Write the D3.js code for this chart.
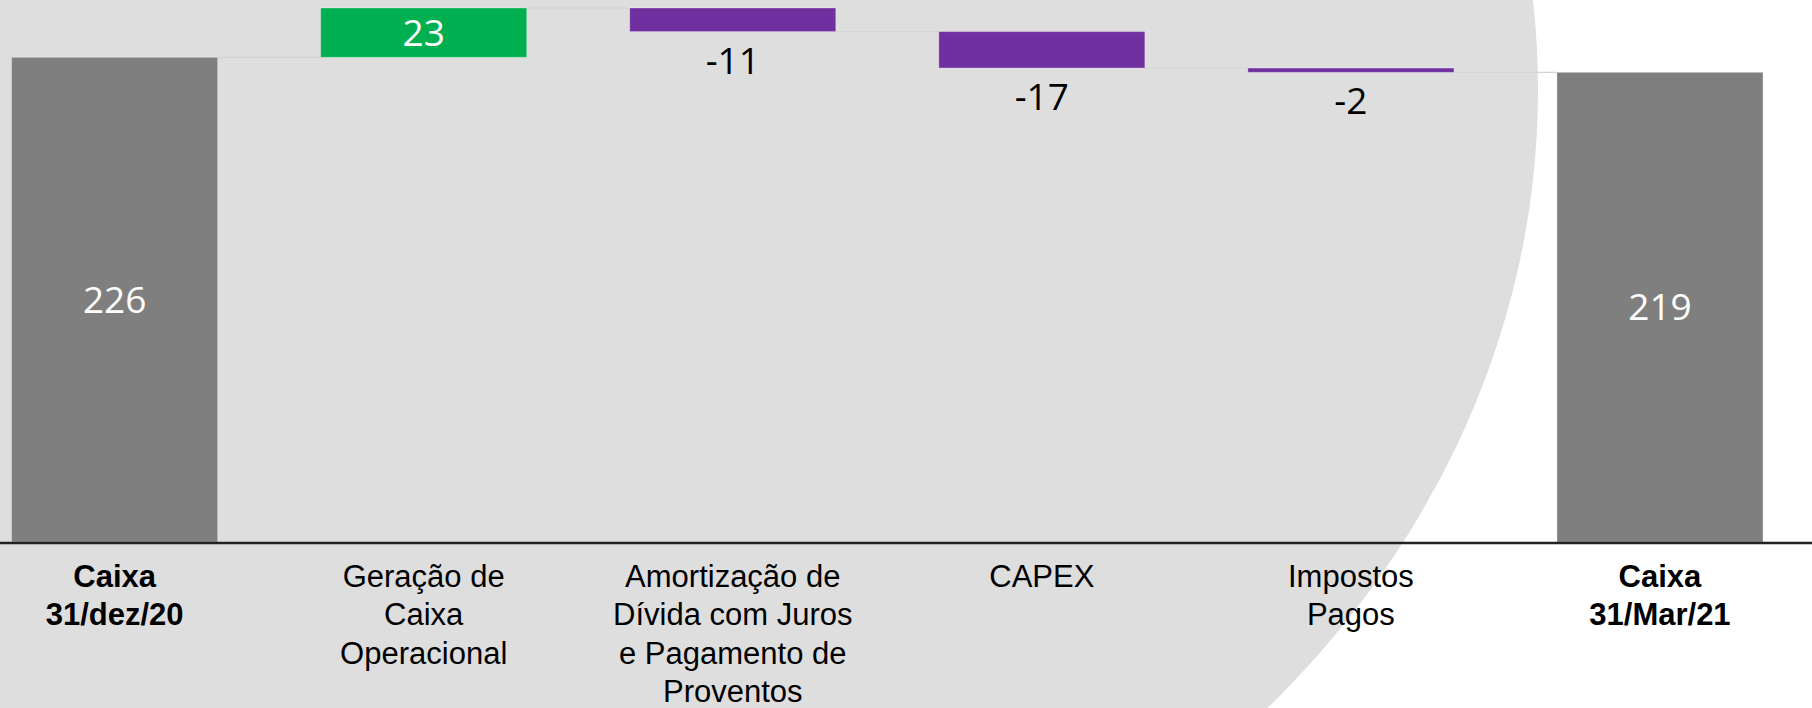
<!DOCTYPE html>
<html>
<head>
<meta charset="utf-8">
<script src="https://cdn.jsdelivr.net/npm/d3@7"></script>
<style>
  html, body { margin: 0; padding: 0; background: #ffffff; }
  svg { display: block; }
</style>
</head>
<body>
<div id="chart"></div>
<script>
// waterfall data
var categories = ["Caixa 31/dez/20", "Geração de Caixa Operacional", "Amortização de Dívida com Juros e Pagamento de Proventos", "CAPEX", "Impostos Pagos", "Caixa 31/Mar/21"];
var categoryLines = [["Caixa", "31/dez/20"], ["Geração de", "Caixa", "Operacional"], ["Amortização de", "Dívida com Juros", "e Pagamento de", "Proventos"], ["CAPEX"], ["Impostos", "Pagos"], ["Caixa", "31/Mar/21"]];
var values = [226, 23, -11, -17, -2, 219];
var kinds = ["total", "delta", "delta", "delta", "delta", "total"];
var yDomain = [0, 249];

var width = 1812, height = 708;
var axisY = 542;
var colors = { total: "#7f7f7f", up: "#00b050", down: "#7030a0" };

var svg, x, y, bars, running, i;

svg = d3.select("#chart").append("svg:svg").attr("width", width).attr("height", height);

// the big grey shape behind the chart
svg.append("ellipse").attr("cx", 468).attr("cy", 90).attr("rx", 1070).attr("ry", 930).attr("fill", "#dedede");

x = d3.scaleBand().domain(categories).range([11.6, 1763]).paddingInner(1 / 3).paddingOuter(0);
y = d3.scaleLinear().domain(yDomain).range([axisY, 8]);

// work out start / end of each bar
bars = [];
running = 0;
for (i = 0; i < values.length; i++) {
  if (kinds[i] === "total") {
    bars.push({ cat: categories[i], v: values[i], lo: 0, hi: values[i], end: values[i], kind: "total" });
    running = values[i];
  } else {
    var next = running + values[i];
    bars.push({ cat: categories[i], v: values[i], lo: Math.min(running, next), hi: Math.max(running, next), end: next, kind: values[i] >= 0 ? "up" : "down" });
    running = next;
  }
}

// connectors
svg.append("g").selectAll("line").data(bars.slice(0, -1)).enter().append("line")
  .attr("x1", function(d) { return x(d.cat) + x.bandwidth(); })
  .attr("x2", function(d, j) { return x(bars[j + 1].cat); })
  .attr("y1", function(d) { return y(d.end); })
  .attr("y2", function(d) { return y(d.end); })
  .attr("stroke", "#d4d4d4").attr("stroke-width", 1.3);

svg.append("g").selectAll("rect").data(bars).enter().append("rect")
  .attr("x", function(d) { return x(d.cat); })
  .attr("width", x.bandwidth())
  .attr("y", function(d) { return y(d.hi); })
  .attr("height", function(d) { return y(d.lo) - y(d.hi); })
  .attr("fill", function(d) { return colors[d.kind]; })
  .attr("stroke", "#ffffff").attr("stroke-opacity", 0.3).attr("stroke-width", 1);

// value labels
svg.append("g").selectAll("text").data(bars).enter().append("text")
  .attr("x", function(d) { return x(d.cat) + x.bandwidth() / 2; })
  .attr("y", function(d) {
    if (d.kind === "down") return y(d.lo) + 42;
    return (y(d.hi) + y(d.lo)) / 2;
  })
  .attr("dy", function(d) { return d.kind === "down" ? 0 : "0.36em"; })
  .attr("text-anchor", "middle")
  .style("font", "37px 'Open Sans', sans-serif")
  .attr("fill", function(d) { return d.kind === "down" ? "#000000" : "#ffffff"; })
  .text(function(d) { return d.v; });

// axis line
svg.append("line").attr("x1", 0).attr("x2", width).attr("y1", axisY + 1).attr("y2", axisY + 1)
  .attr("stroke", "#222222").attr("stroke-width", 2.5);

// category labels
var labels = svg.append("g").selectAll("text").data(categories).enter().append("text")
  .attr("x", function(d) { return x(d) + x.bandwidth() / 2; })
  .attr("y", 587)
  .attr("text-anchor", "middle")
  .style("font-family", "'Liberation Sans', Arial, sans-serif")
  .style("font-size", "31px")
  .style("font-weight", function(d, j) { return kinds[j] === "total" ? "bold" : "normal"; })
  .attr("fill", "#000000");

labels.each(function(d, j) {
  d3.select(this).selectAll("tspan").data(categoryLines[j]).enter().append("tspan")
    .attr("x", x(d) + x.bandwidth() / 2)
    .attr("dy", function(t, k) { return k === 0 ? 0 : 38.3; })
    .text(function(t) { return t; });
});
</script>
</body>
</html>
